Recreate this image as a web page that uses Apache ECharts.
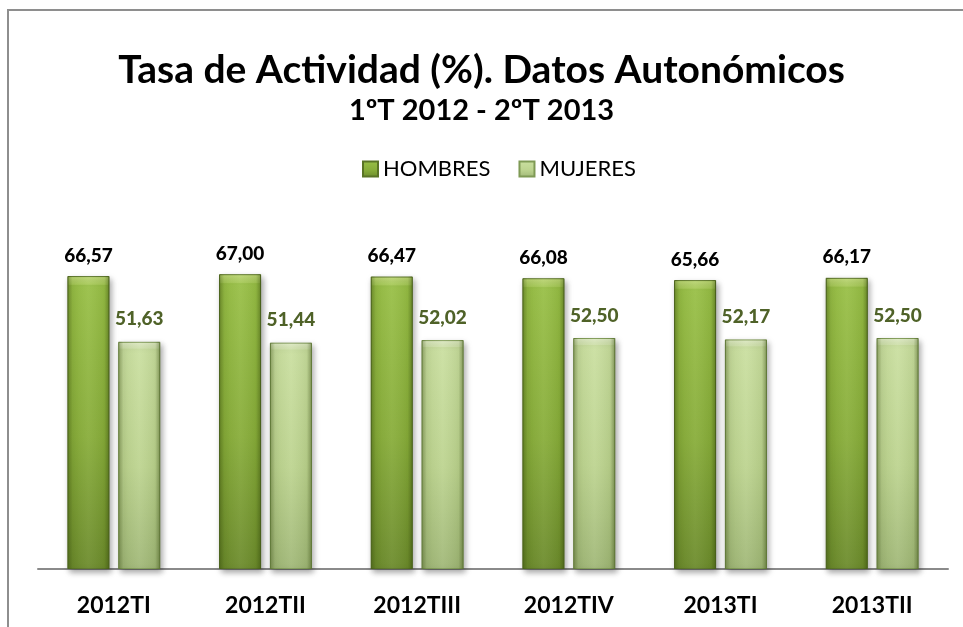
<!DOCTYPE html>
<html>
<head>
<meta charset="utf-8">
<script src="https://cdn.jsdelivr.net/npm/echarts@6/dist/echarts.min.js"></script>
<style>
  html, body { margin: 0; padding: 0; background: #fff; }
  #chart { width: 963px; height: 627px; }
</style>
</head>
<body>
<div id="chart"></div>
<script>
var categories = ['2012TI', '2012TII', '2012TIII', '2012TIV', '2013TI', '2013TII'];
var hombres = [66.57, 67.00, 66.47, 66.08, 65.66, 66.17];
var mujeres = [51.63, 51.44, 52.02, 52.50, 52.17, 52.50];

var chart = echarts.init(document.getElementById('chart'));

function fmt(p) {
    return p.value.toFixed(2).replace('.', ',');
}

// degradado vertical (bisel superior claro)
var verdeH = new echarts.graphic.LinearGradient(0, 0, 0, 1, [
    { offset: 0, color: '#c6e07c' },
    { offset: 0.028, color: '#aacd5a' },
    { offset: 0.032, color: '#98bf46' },
    { offset: 0.55, color: '#88ad3a' },
    { offset: 1, color: '#6c8b2c' }
]);
var verdeM = new echarts.graphic.LinearGradient(0, 0, 0, 1, [
    { offset: 0, color: '#e6f2cc' },
    { offset: 0.028, color: '#d6e8b2' },
    { offset: 0.032, color: '#cadfa0' },
    { offset: 0.55, color: '#bdd490' },
    { offset: 1, color: '#a1b878' }
]);
// bordes laterales oscuros
var lados = new echarts.graphic.LinearGradient(0, 0, 1, 0, [
    { offset: 0, color: 'rgba(40,60,0,0.38)' },
    { offset: 0.12, color: 'rgba(40,60,0,0.06)' },
    { offset: 0.5, color: 'rgba(255,255,255,0.06)' },
    { offset: 0.88, color: 'rgba(40,60,0,0.08)' },
    { offset: 1, color: 'rgba(40,60,0,0.42)' }
]);

var option = {
    animation: false,
    title: [
        {
            text: 'Tasa de Actividad (%). Datos Autonómicos',
            left: 'center',
            top: 46,
            textStyle: { fontFamily: 'Lato', fontSize: 39, fontWeight: 'bold', color: '#000' }
        },
        {
            text: '1ºT 2012 - 2ºT 2013',
            left: 'center',
            top: 91,
            textStyle: { fontFamily: 'Lato', fontSize: 29, fontWeight: 'bold', color: '#000' }
        }
    ],
    legend: {
        data: ['HOMBRES', 'MUJERES'],
        left: 357,
        top: 153,
        itemWidth: 15,
        itemHeight: 15,
        itemGap: 28,
        icon: 'rect',
        textStyle: { fontFamily: 'Lato', fontSize: 22, color: '#000' }
    },
    grid: { left: 38, right: 15, top: 217, bottom: 58 },
    xAxis: [
        {
            type: 'category',
            data: categories,
            axisLine: { lineStyle: { color: '#8a8a8a', width: 2 } },
            axisTick: { show: false },
            axisLabel: { margin: 25, fontFamily: 'Lato', fontSize: 23, fontWeight: 'bold', color: '#000' }
        },
        {
            type: 'category',
            data: categories,
            show: false
        }
    ],
    yAxis: {
        type: 'value',
        min: 0,
        max: 80,
        show: false,
        splitLine: { show: false }
    },
    graphic: [
        {
            type: 'rect',
            shape: { x: 8, y: 10, width: 1100, height: 1000 },
            style: { fill: 'none', stroke: '#8e8e8e', lineWidth: 2 },
            z: 100
        }
    ],
    series: [
        {
            name: 'HOMBRES',
            type: 'bar',
            data: hombres,
            barWidth: 42,
            barGap: '21%',
            itemStyle: {
                color: verdeH,
                borderColor: '#5a7426',
                borderWidth: 1,
                shadowBlur: 6,
                shadowColor: 'rgba(0,0,0,0.35)',
                shadowOffsetX: 2,
                shadowOffsetY: 3
            },
            label: {
                show: true,
                position: 'top',
                distance: 11,
                formatter: fmt,
                fontFamily: 'Lato',
                fontSize: 19,
                fontWeight: 900,
                color: '#000'
            }
        },
        {
            name: 'MUJERES',
            type: 'bar',
            data: mujeres,
            barWidth: 42,
            barGap: '21%',
            itemStyle: {
                color: verdeM,
                borderColor: '#7f9a55',
                borderWidth: 1,
                shadowBlur: 6,
                shadowColor: 'rgba(0,0,0,0.35)',
                shadowOffsetX: 2,
                shadowOffsetY: 3
            },
            label: {
                show: true,
                position: 'top',
                distance: 13,
                formatter: fmt,
                fontFamily: 'Lato',
                fontSize: 19,
                fontWeight: 900,
                color: '#4f6228'
            }
        },
        {
            name: 'bisel1',
            type: 'bar',
            xAxisIndex: 1,
            data: hombres,
            barWidth: 42,
            barGap: '21%',
            silent: true,
            itemStyle: { color: lados }
        },
        {
            name: 'bisel2',
            type: 'bar',
            xAxisIndex: 1,
            data: mujeres,
            barWidth: 42,
            barGap: '21%',
            silent: true,
            itemStyle: { color: lados }
        }
    ]
};

chart.setOption(option);
</script>
</body>
</html>
